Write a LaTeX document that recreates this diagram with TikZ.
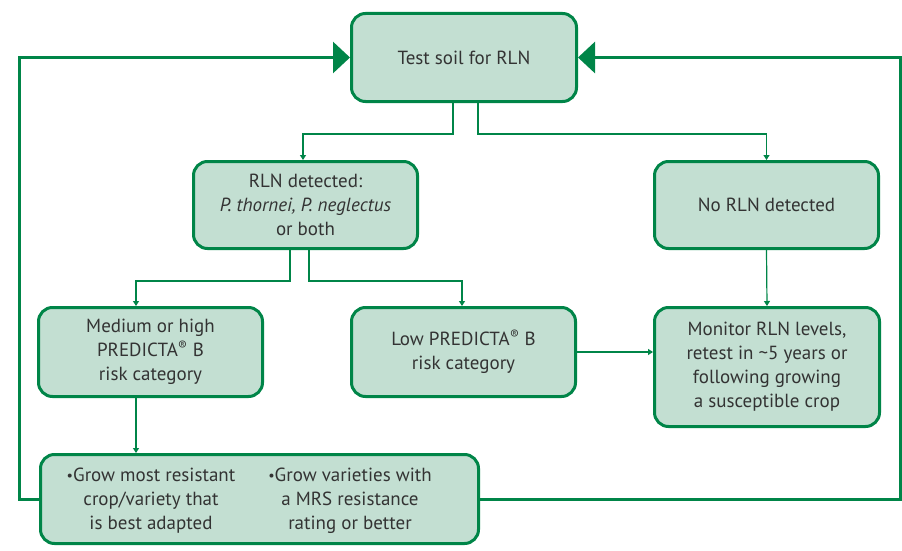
\documentclass[tikz,border=0pt]{standalone}
\usepackage{fontspec}
\setmainfont{PT Sans}
\usetikzlibrary{arrows.meta}
\definecolor{gborder}{HTML}{008548}
\definecolor{gfill}{HTML}{C3DFD2}
\definecolor{gtext}{HTML}{333333}
\newcommand{\regmk}{\textsuperscript{®}}
\newcommand{\bul}{\raisebox{1pt}{\scalebox{0.75}{•}}}
\begin{document}
\begin{tikzpicture}[x=1pt,y=-1pt,
  box/.style={draw=gborder,line width=3pt,fill=gfill,rounded corners=14pt,text=gtext,align=center,font=\fontsize{19}{24}\selectfont,inner sep=0pt},
  txt/.style={text=gtext,align=center,font=\fontsize{19}{24}\selectfont,inner sep=0pt},
  conn/.style={draw=gborder,line width=1.2pt,-{Triangle[length=5pt,width=6pt]}},
  loopl/.style={draw=gborder,line width=3pt,-{Triangle[length=17pt,width=31pt]}}]
\useasboundingbox (0,0) rectangle (902,551);

\node[box,minimum width=225pt,minimum height=88pt] (top) at (464,57.5) {Test soil for RLN};
\node[box,minimum width=224pt,minimum height=87pt] (rln) at (305.5,205) {RLN detected:\\\textit{P. thornei, P. neglectus}\\or both};
\node[box,minimum width=224pt,minimum height=87pt] (norln) at (766.5,205) {No RLN detected};
\node[box,minimum width=224pt,minimum height=89pt] (med) at (150.5,352) {Medium or high\\PREDICTA\regmk{} B\\risk category};
\node[box,minimum width=224pt,minimum height=89pt] (low) at (463.5,352) {Low PREDICTA\regmk{} B\\risk category};
\node[box,minimum width=225pt,minimum height=119pt] (mon) at (767,367) {Monitor RLN levels,\\retest in \textasciitilde5 years or\\following growing\\a susceptible crop};
\node[box,minimum width=438pt,minimum height=89pt] (bot) at (259.5,499) {};
\node[txt] (botl) at (151,501) {\bul Grow most resistant\\crop/variety that\\is best adapted};
\node[txt] (botr) at (350,501) {\bul Grow varieties with\\a MRS resistance\\rating or better};

\coordinate (lc) at (19,499);
\coordinate (rc) at (900,499);
\draw[loopl] (bot.west) -- (lc) |- (top.west);
\draw[loopl] (bot.east) -- (rc) |- (top.east);

\draw[conn] ([xshift=-11pt]top.south) -- ++(0,31) -| ([xshift=-2.5pt]rln.north);
\draw[conn] ([xshift=14pt]top.south) -- ++(0,31) -| (norln.north);
\draw[conn] ([xshift=-15.5pt]rln.south) -- ++(0,31) -| ([xshift=-14.5pt]med.north);
\draw[conn] ([xshift=3.5pt]rln.south) -- ++(0,31) -| ([xshift=-1.5pt]low.north);
\draw[conn] ([xshift=-14.5pt]med.south) -- ([xshift=-14.5pt]med.south |- bot.north);
\draw[conn] (low.east) -- (mon.west |- low.east);
\draw[conn] (norln.south) -- (mon.north);
\end{tikzpicture}
\end{document}
